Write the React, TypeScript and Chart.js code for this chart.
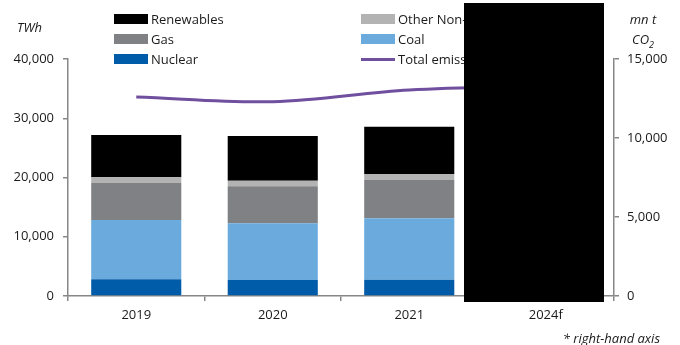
import React, { useEffect, useRef } from "react";
import { Chart, registerables } from "chart.js";

Chart.register(...registerables);

// Generation by source (TWh) and total emissions (mn t CO2)
const years = ["2019", "2020", "2021", "2024f"];
const nuclear = [2820, 2700, 2760, null];
const coal = [10010, 9570, 10350, null];
const gas = [6290, 6240, 6470, null];
const otherNonFossil = [910, 950, 1010, null];
const renewables = [7140, 7540, 7980, null];
const totalEmissions = [12600, 12300, 13040, 13300];

const leftTicks = [0, 10000, 20000, 30000, 40000];
const rightTicks = [0, 5000, 10000, 15000];

const FONT = "'Open Sans', 'Noto Sans', sans-serif";
const TEXT = "#1a1a1a";
const AXIS = "#878787";

const COLORS = {
  renewables: "#000000",
  other: "#b3b3b3",
  gas: "#808184",
  coal: "#6aaadd",
  nuclear: "#005ca9",
  emissions: "#6f4f9e",
};

const W = 680;
const H = 345;
const PLOT_LEFT = 68;
const PLOT_RIGHT = 614;
const PLOT_TOP = 59;
const PLOT_BOTTOM = 296;

const fmt = (v: number) => v.toLocaleString("en-US");

type LegendItem = { label: string; color: string; line?: boolean };
const legendCol1: LegendItem[] = [
  { label: "Renewables", color: COLORS.renewables },
  { label: "Gas", color: COLORS.gas },
  { label: "Nuclear", color: COLORS.nuclear },
];
const legendCol2: LegendItem[] = [
  { label: "Other Non-fossil", color: COLORS.other },
  { label: "Coal", color: COLORS.coal },
  { label: "Total emissions*", color: COLORS.emissions, line: true },
];

function LegendColumn({ items, left }: { items: LegendItem[]; left: number }) {
  return (
    <>
      {items.map((it, i) => {
        const cy = 19 + i * 20;
        return (
          <React.Fragment key={it.label}>
            <div
              style={{
                position: "absolute",
                left,
                top: it.line ? cy - 1.5 : cy - 5,
                width: 34,
                height: it.line ? 3 : 10,
                background: it.color,
              }}
            />
            <div
              style={{
                position: "absolute",
                left: left + 37,
                top: cy - 9,
                height: 18,
                lineHeight: "18px",
                fontSize: 13,
                fontFamily: FONT,
                color: TEXT,
                whiteSpace: "nowrap",
              }}
            >
              {it.label}
            </div>
          </React.Fragment>
        );
      })}
    </>
  );
}

export default function App() {
  const canvasRef = useRef<HTMLCanvasElement | null>(null);

  useEffect(() => {
    const canvas = canvasRef.current;
    if (!canvas) return;
    const tickFont = { family: FONT, size: 13 };

    const chart = new Chart(canvas, {
      data: {
        labels: years,
        datasets: [
          {
            type: "line",
            label: "Total emissions*",
            data: totalEmissions,
            yAxisID: "y2",
            borderColor: COLORS.emissions,
            borderWidth: 3,
            pointRadius: 0,
            tension: 0.35,
            order: 0,
          },
          {
            type: "bar",
            label: "Nuclear",
            data: nuclear,
            backgroundColor: COLORS.nuclear,
            yAxisID: "y",
            order: 1,
          },
          {
            type: "bar",
            label: "Coal",
            data: coal,
            backgroundColor: COLORS.coal,
            yAxisID: "y",
            order: 1,
          },
          {
            type: "bar",
            label: "Gas",
            data: gas,
            backgroundColor: COLORS.gas,
            yAxisID: "y",
            order: 1,
          },
          {
            type: "bar",
            label: "Other Non-fossil",
            data: otherNonFossil,
            backgroundColor: COLORS.other,
            yAxisID: "y",
            order: 1,
          },
          {
            type: "bar",
            label: "Renewables",
            data: renewables,
            backgroundColor: COLORS.renewables,
            yAxisID: "y",
            order: 1,
          },
        ] as any,
      },
      options: {
        animation: false,
        responsive: false,
        maintainAspectRatio: false,
        datasets: {
          bar: { barPercentage: 1, categoryPercentage: 0.66 },
        } as any,
        layout: { padding: { top: PLOT_TOP, left: 0, right: 0, bottom: 0 } },
        plugins: {
          legend: { display: false },
          tooltip: { enabled: false },
        },
        scales: {
          x: {
            stacked: true,
            offset: true,
            grid: {
              offset: true,
              drawOnChartArea: false,
              drawTicks: true,
              tickLength: 5,
              color: AXIS,
              lineWidth: 1.5,
            },
            border: { color: AXIS, width: 1.5 },
            ticks: { font: tickFont, color: TEXT, padding: 6 },
            afterFit: (s: any) => {
              s.height = H - PLOT_BOTTOM;
            },
          },
          y: {
            stacked: true,
            position: "left",
            min: 0,
            max: 40000,
            afterBuildTicks: (s: any) => {
              s.ticks = leftTicks.map((v) => ({ value: v }));
            },
            grid: {
              drawOnChartArea: false,
              drawTicks: true,
              tickLength: 5,
              color: AXIS,
              lineWidth: 1.5,
            },
            border: { color: AXIS, width: 1.5 },
            ticks: {
              font: tickFont,
              color: TEXT,
              padding: 9,
              callback: (v: any) => fmt(Number(v)),
            },
            afterFit: (s: any) => {
              s.width = PLOT_LEFT;
            },
          },
          y2: {
            position: "right",
            min: 0,
            max: 15000,
            afterBuildTicks: (s: any) => {
              s.ticks = rightTicks.map((v) => ({ value: v }));
            },
            grid: {
              drawOnChartArea: false,
              drawTicks: true,
              tickLength: 5,
              color: AXIS,
              lineWidth: 1.5,
            },
            border: { color: AXIS, width: 1.5 },
            ticks: {
              font: tickFont,
              color: TEXT,
              padding: 8,
              callback: (v: any) => fmt(Number(v)),
            },
            afterFit: (s: any) => {
              s.width = W - PLOT_RIGHT;
            },
          },
        },
      } as any,
    });

    return () => chart.destroy();
  }, []);

  const italic: React.CSSProperties = {
    position: "absolute",
    fontFamily: FONT,
    fontStyle: "italic",
    fontSize: 13,
    color: TEXT,
    whiteSpace: "nowrap",
    lineHeight: "16px",
  };

  return (
    <div
      style={{
        position: "fixed",
        left: 0,
        top: 0,
        width: W,
        height: H,
        background: "#fff",
        overflow: "hidden",
      }}
    >
      <canvas
        ref={canvasRef}
        width={W}
        height={H}
        style={{ position: "absolute", left: 0, top: 0, width: W, height: H }}
      />
      <div style={{ ...italic, left: 17, top: 19 }}>TWh</div>
      <div style={{ ...italic, left: 612, width: 62, textAlign: "center", top: 11 }}>mn t</div>
      <div style={{ ...italic, left: 612, width: 62, textAlign: "center", top: 31 }}>
        CO<sub style={{ fontSize: 9, lineHeight: 0 }}>2</sub>
      </div>
      <div style={{ ...italic, right: 20, top: 330 }}>* right-hand axis</div>
      <LegendColumn items={legendCol1} left={114} />
      <LegendColumn items={legendCol2} left={361} />
      <div
        style={{
          position: "absolute",
          left: 464,
          top: 3,
          width: 140,
          height: 299,
          background: "#000",
        }}
      />
    </div>
  );
}
